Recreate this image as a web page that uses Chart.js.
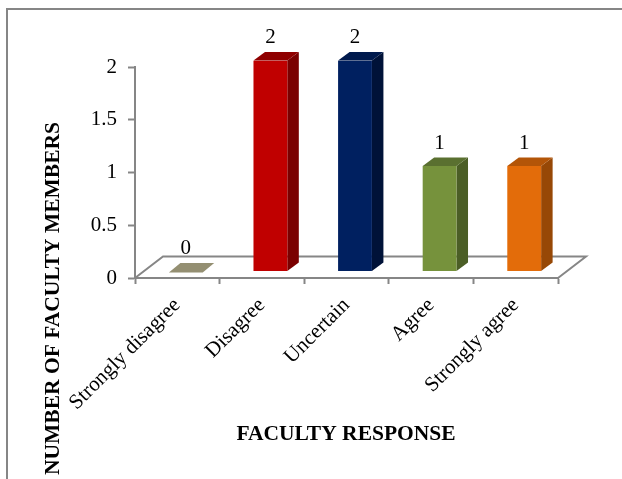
<!DOCTYPE html>
<html>
<head>
<meta charset="utf-8">
<script src="https://cdn.jsdelivr.net/npm/chart.js@4"></script>
<style>
  html, body { margin: 0; padding: 0; background: #fff; }
  canvas { display: block; }
</style>
</head>
<body>
<canvas id="myChart" width="622" height="479"></canvas>
<script>
var categories = ["Strongly disagree", "Disagree", "Uncertain", "Agree", "Strongly agree"];
var facultyCounts = [0, 2, 2, 1, 1];
var yTickLabels = ["0", "0.5", "1", "1.5", "2"];
var frontColors = ["#948f72", "#c00000", "#002060", "#76923c", "#e36c0a"];
var sideColors = ["#948f72", "#7a0000", "#001238", "#4b5e26", "#974806"];
var topColors = ["#948f72", "#8f0000", "#001a4d", "#5a7030", "#b35508"];

var axisGrey = "#868686";
var serif = "'Liberation Serif', 'Times New Roman', serif";

// bars sit a little inside the floor, the floor recedes up and to the right
var floorDepth = { x: 28, y: -21.5 };
var barShift = { x: 8.5, y: -6.5 };
var barDepth = { x: 11.5, y: -8.5 };

function poly(c, pts, fill) {
    c.beginPath();
    c.moveTo(pts[0][0], pts[0][1]);
    for (var i = 1; i < pts.length; i++) c.lineTo(pts[i][0], pts[i][1]);
    c.closePath();
    c.fillStyle = fill;
    c.fill();
}

var frame = {
    id: 'frame',
    beforeDraw: function (chart) {
        var c = chart.ctx;
        c.save();
        c.strokeStyle = axisGrey;
        c.lineWidth = 2;
        c.strokeRect(7, 9, 640, 500);
        c.restore();
    }
};

var floor = {
    id: 'floor',
    beforeDatasetsDraw: function (chart) {
        var c = chart.ctx, a = chart.chartArea;
        c.save();
        c.strokeStyle = axisGrey;
        c.lineWidth = 2;
        c.beginPath();
        c.moveTo(a.left, a.bottom);
        c.lineTo(a.left + floorDepth.x, a.bottom + floorDepth.y);
        c.lineTo(a.right + floorDepth.x, a.bottom + floorDepth.y);
        c.lineTo(a.right, a.bottom);
        c.stroke();
        c.restore();
    }
};

// side and top faces come from the bar elements, the front face is drawn by the library
var bars3d = {
    id: 'bars3d',
    beforeDatasetDraw: function (chart) {
        var c = chart.ctx;
        var meta = chart.getDatasetMeta(0);
        c.save();
        c.translate(barShift.x, barShift.y);
        meta.data.forEach(function (bar, i) {
            var w = bar.width / 2;
            var l = bar.x - w, r = bar.x + w;
            var t = bar.y, b = bar.base;
            var dx = barDepth.x, dy = barDepth.y;
            if (facultyCounts[i] === 0) {
                poly(c, [[l, b + 1], [r, b + 1], [r + dx, b + dy], [l + dx, b + dy]], topColors[i]);
                return;
            }
            poly(c, [[r, t], [r + dx, t + dy], [r + dx, b + dy], [r, b]], sideColors[i]);
            poly(c, [[l, t], [l + dx, t + dy], [r + dx, t + dy], [r, t]], topColors[i]);
        });
    },
    afterDatasetDraw: function (chart) {
        var c = chart.ctx;
        var meta = chart.getDatasetMeta(0);
        c.restore();
        c.save();
        c.fillStyle = "#000";
        c.font = "21px " + serif;
        c.textAlign = "center";
        c.textBaseline = "alphabetic";
        meta.data.forEach(function (bar, i) {
            c.fillText(String(facultyCounts[i]), bar.x + barShift.x, bar.y + barShift.y - 17.5);
        });
        c.restore();
    }
};

var axisTitles = {
    id: 'axisTitles',
    afterDraw: function (chart) {
        var c = chart.ctx;
        c.save();
        c.fillStyle = "#000";
        c.font = "bold 21.5px " + serif;
        c.textAlign = "center";
        c.textBaseline = "middle";
        c.fillText("FACULTY RESPONSE", 346, 434);
        c.translate(53, 298.5);
        c.rotate(-Math.PI / 2);
        c.fillText("NUMBER OF FACULTY MEMBERS", 0, 0);
        c.restore();
    }
};

var myChart = new Chart(document.getElementById("myChart"), {
    type: 'bar',
    data: {
        labels: categories,
        datasets: [{
            label: 'Faculty members',
            data: facultyCounts,
            backgroundColor: frontColors,
            borderWidth: 0,
            categoryPercentage: 1,
            barPercentage: 0.4
        }]
    },
    plugins: [frame, floor, bars3d, axisTitles],
    options: {
        responsive: false,
        animation: false,
        layout: { padding: { left: 0, top: 67, right: 64, bottom: 0 } },
        plugins: { legend: { display: false }, tooltip: { enabled: false } },
        scales: {
            x: {
                afterFit: function (scale) { scale.height = 201; },
                border: { color: axisGrey, width: 2 },
                grid: { display: true, drawOnChartArea: false, drawTicks: true, tickLength: 6, tickColor: axisGrey, tickWidth: 2, offset: true },
                ticks: {
                    autoSkip: false, minRotation: 45, maxRotation: 45,
                    color: "#000", font: { family: serif, size: 21 }, padding: 9
                }
            },
            y: {
                min: 0,
                max: 2,
                afterFit: function (scale) { scale.width = 135; },
                border: { color: axisGrey, width: 2 },
                grid: { drawOnChartArea: false, tickLength: 7, tickColor: axisGrey, tickWidth: 2 },
                ticks: {
                    stepSize: 0.5,
                    callback: function (value, index) { return yTickLabels[index]; },
                    color: "#000", font: { family: serif, size: 21 }, padding: 11
                }
            }
        }
    }
});
</script>
</body>
</html>
